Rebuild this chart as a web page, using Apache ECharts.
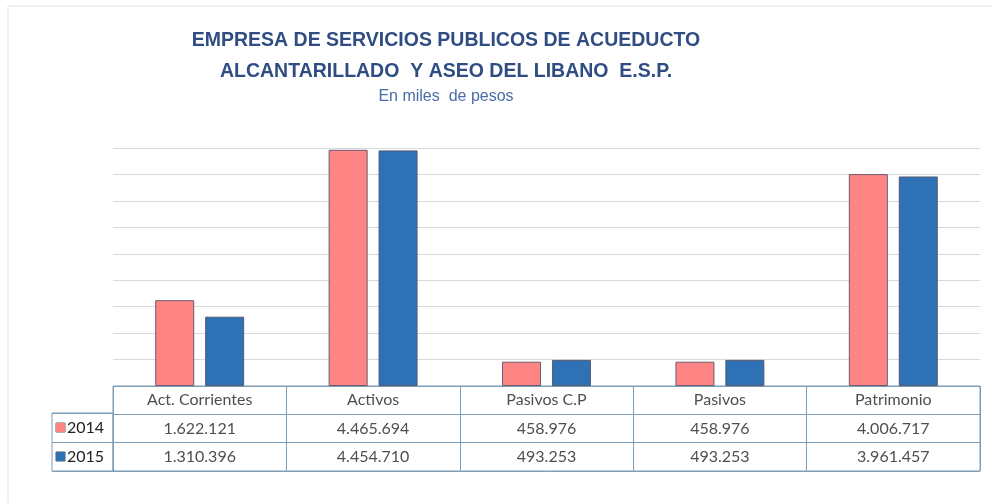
<!DOCTYPE html>
<html>
<head>
<meta charset="utf-8">
<script src="https://cdn.jsdelivr.net/npm/echarts@6/dist/echarts.min.js"></script>
<style>html,body{margin:0;padding:0;background:#fff}#c{width:992px;height:503px}</style>
</head>
<body>
<div id="c"></div>
<script>
var categories = ['Act. Corrientes', 'Activos', 'Pasivos C.P', 'Pasivos', 'Patrimonio'];
var seriesNames = ['2014', '2015'];
var values2014 = [1622121, 4465694, 458976, 458976, 4006717];
var values2015 = [1310396, 4454710, 493253, 493253, 3961457];
var colors = ['#FF8585', '#2E71B4'];
var tableRows = ['2015', '2014', 'hdr'];

function fmt(v) { return String(v).replace(/\B(?=(\d{3})+(?!\d))/g, '.'); }

var chart = echarts.init(document.getElementById('c'));
var tableFont = 'Lato, "Open Sans", sans-serif';
var borderC = '#7E9DB6';

var cellData = [];
categories.forEach(function (c, i) {
  cellData.push({ value: [c, 'hdr'], label: { formatter: c } });
  cellData.push({ value: [c, '2014'], label: { formatter: fmt(values2014[i]) } });
  cellData.push({ value: [c, '2015'], label: { formatter: fmt(values2015[i]) } });
});

chart.setOption({
  animation: false,
  backgroundColor: '#fff',
  title: [
    { text: 'EMPRESA DE SERVICIOS PUBLICOS DE ACUEDUCTO\nALCANTARILLADO  Y ASEO DEL LIBANO  E.S.P.',
      left: 441, top: 20, textAlign: 'center',
      textStyle: { fontFamily: '"Liberation Sans", Arial, sans-serif', fontSize: 19.5, fontWeight: 'bold', color: '#2F4D82', lineHeight: 31 } },
    { text: 'En miles  de pesos', left: 441, top: 84, textAlign: 'center',
      textStyle: { fontFamily: '"Liberation Sans", Arial, sans-serif', fontSize: 16, fontWeight: 'normal', color: '#4A6DA8' } }
  ],
  graphic: [{ type: 'rect', shape: { x: 8, y: 6, width: 1000, height: 520 }, style: { fill: 'none', stroke: '#E4E4E4', lineWidth: 1 }, silent: true }],
  grid: [
    { left: 113, right: 12, top: 148, bottom: 117 },
    { left: 113, right: 12, top: 386, bottom: 32, show: true, borderColor: borderC, borderWidth: 1 },
    { left: 52, width: 61, top: 413, bottom: 32, show: true, borderColor: borderC, borderWidth: 1 }
  ],
  xAxis: [
    { gridIndex: 0, type: 'category', data: categories, axisLine: { show: false }, axisTick: { show: false }, axisLabel: { show: false } },
    { gridIndex: 1, type: 'category', data: categories, axisLine: { show: false }, axisTick: { show: false }, axisLabel: { show: false },
      splitLine: { show: true, lineStyle: { color: borderC, width: 1 } } },
    { gridIndex: 2, type: 'category', data: ['x'], show: false }
  ],
  yAxis: [
    { gridIndex: 0, type: 'value', min: 0, max: 4500000, interval: 500000, axisLabel: { show: false }, axisLine: { show: false }, axisTick: { show: false },
      splitLine: { lineStyle: { color: '#D9D9D9', width: 1 } } },
    { gridIndex: 1, type: 'category', data: tableRows, axisLine: { show: false }, axisTick: { show: false }, axisLabel: { show: false },
      splitLine: { show: true, lineStyle: { color: borderC, width: 1 } } },
    { gridIndex: 2, type: 'category', data: ['2015', '2014'], axisLine: { show: false }, axisTick: { show: false },
      splitLine: { show: true, lineStyle: { color: borderC, width: 1 } },
      axisLabel: { inside: true, margin: 4, fontFamily: tableFont, fontSize: 16, color: '#222',
        formatter: function (v) { return '{' + (v === '2014' ? 'a' : 'b') + '|}{g|}' + v; },
        rich: { a: { width: 9, height: 9, backgroundColor: colors[0], borderColor: '#666', borderWidth: 0.5, padding: [0, 0, 0, 0] },
                b: { width: 9, height: 9, backgroundColor: colors[1], borderColor: '#555', borderWidth: 0.5, padding: [0, 0, 0, 0] },
                g: { width: 2 } } } }
  ],
  series: [
    { name: seriesNames[0], type: 'bar', xAxisIndex: 0, yAxisIndex: 0, data: values2014, barWidth: 39, barGap: '28%',
      itemStyle: { color: colors[0], borderColor: '#6B5A70', borderWidth: 1 } },
    { name: seriesNames[1], type: 'bar', xAxisIndex: 0, yAxisIndex: 0, data: values2015, barWidth: 39, barGap: '28%',
      itemStyle: { color: colors[1], borderColor: '#555A70', borderWidth: 1 } },
    { type: 'scatter', xAxisIndex: 1, yAxisIndex: 1, symbolSize: 0, data: cellData, silent: true,
      label: { show: true, position: 'inside', fontFamily: tableFont, fontSize: 16, color: '#222' } }
  ]
});
</script>
</body>
</html>
